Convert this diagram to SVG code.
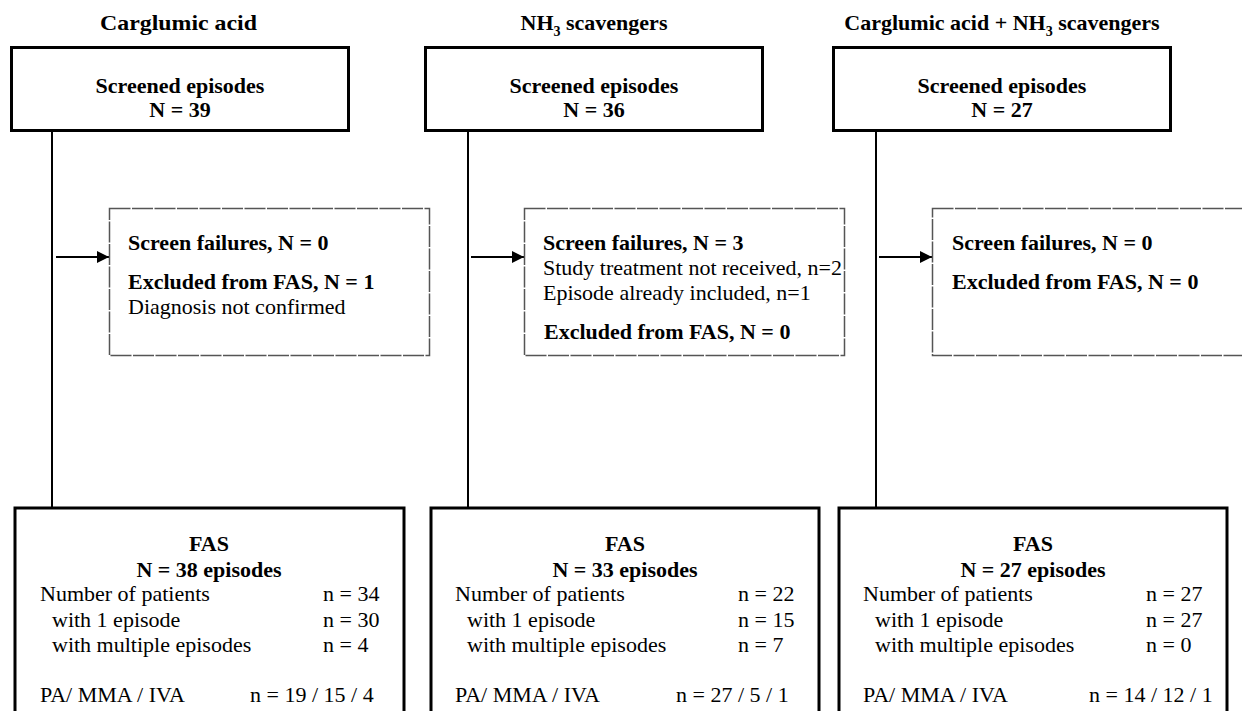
<svg xmlns="http://www.w3.org/2000/svg" width="1242" height="711" viewBox="0 0 1242 711" font-family="'Liberation Serif', 'Times New Roman', Times, serif">
<style>
text{font-family:"Liberation Serif","Times New Roman",Times,serif;fill:#000}
.t{font-size:22px;font-weight:bold}
.b{font-size:22px;font-weight:bold}
.r{font-size:22px}
.m{text-anchor:middle}
.box{fill:#fff;stroke:#000;stroke-width:3}
.dbox{fill:#fff;stroke:#555;stroke-width:1.5;stroke-dasharray:21 1.5}
.ln{stroke:#000;stroke-width:2;fill:none}
</style>
<defs>
<marker id="ah" viewBox="0 0 10 10" refX="10" refY="5" markerWidth="13" markerHeight="12" markerUnits="userSpaceOnUse" orient="auto">
<path d="M0,0 L10,5 L0,10 z" fill="#000"/>
</marker>
</defs>
<g id="connectors">
<line class="ln" x1="52" y1="131" x2="52" y2="508"/>
<line class="ln" x1="468" y1="131" x2="468" y2="508"/>
<line class="ln" x1="876" y1="131" x2="876" y2="508"/>
<line class="ln" x1="56" y1="257" x2="109" y2="257" marker-end="url(#ah)"/>
<line class="ln" x1="471" y1="257" x2="524" y2="257" marker-end="url(#ah)"/>
<line class="ln" x1="879" y1="257" x2="932" y2="257" marker-end="url(#ah)"/>
</g>
<g id="titles">
<text class="t" x="100" y="30" textLength="157" lengthAdjust="spacingAndGlyphs">Carglumic acid</text>
<text class="t m" x="594" y="30">NH<tspan font-size="14" dy="6">3</tspan><tspan dy="-6"> scavengers</tspan></text>
<text class="t m" x="1002" y="30">Carglumic acid + NH<tspan font-size="14" dy="6">3</tspan><tspan dy="-6"> scavengers</tspan></text>
</g>
<g id="screened1">
<rect class="box" x="11.5" y="47.5" width="337" height="83"/>
<text class="b m" x="180" y="93">Screened episodes</text>
<text class="b m" x="180" y="117">N = 39</text>
</g>
<g id="screened2">
<rect class="box" x="425.5" y="47.5" width="337" height="83"/>
<text class="b m" x="594" y="93">Screened episodes</text>
<text class="b m" x="594" y="117">N = 36</text>
</g>
<g id="screened3">
<rect class="box" x="833.5" y="47.5" width="337" height="83"/>
<text class="b m" x="1002" y="93">Screened episodes</text>
<text class="b m" x="1002" y="117">N = 27</text>
</g>
<g id="excl1">
<rect class="dbox" x="109.5" y="208.5" width="320" height="147"/>
<text class="b" x="128" y="250">Screen failures, N = 0</text>
<text class="b" x="128" y="289">Excluded from FAS, N = 1</text>
<text class="r" x="128" y="314">Diagnosis not confirmed</text>
</g>
<g id="excl2">
<rect class="dbox" x="524.5" y="208.5" width="320" height="147"/>
<text class="b" x="543" y="250">Screen failures, N = 3</text>
<text class="r" x="543" y="275">Study treatment not received, n=2</text>
<text class="r" x="543" y="300">Episode already included, n=1</text>
<text class="b" x="544" y="339">Excluded from FAS, N = 0</text>
</g>
<g id="excl3">
<rect class="dbox" x="932.5" y="208.5" width="330" height="147"/>
<text class="b" x="952" y="250">Screen failures, N = 0</text>
<text class="b" x="952" y="289">Excluded from FAS, N = 0</text>
</g>
<g id="fas1">
<rect class="box" x="15" y="508" width="389" height="220"/>
<text class="b m" x="209" y="551">FAS</text>
<text class="b m" x="209" y="577">N = 38 episodes</text>
<text class="r" x="40" y="601">Number of patients</text>
<text class="r" x="52" y="627">with 1 episode</text>
<text class="r" x="52" y="652">with multiple episodes</text>
<text class="r" x="40" y="702">PA/ MMA / IVA</text>
<text class="r" x="323" y="601">n = 34</text>
<text class="r" x="323" y="627">n = 30</text>
<text class="r" x="323" y="652">n = 4</text>
<text class="r" x="250" y="702">n = 19 / 15 / 4</text>
</g>
<g id="fas2">
<rect class="box" x="431" y="508" width="388" height="220"/>
<text class="b m" x="625" y="551">FAS</text>
<text class="b m" x="625" y="577">N = 33 episodes</text>
<text class="r" x="455" y="601">Number of patients</text>
<text class="r" x="467" y="627">with 1 episode</text>
<text class="r" x="467" y="652">with multiple episodes</text>
<text class="r" x="455" y="702">PA/ MMA / IVA</text>
<text class="r" x="738" y="601">n = 22</text>
<text class="r" x="738" y="627">n = 15</text>
<text class="r" x="738" y="652">n = 7</text>
<text class="r" x="676" y="702">n = 27 / 5 / 1</text>
</g>
<g id="fas3">
<rect class="box" x="839" y="508" width="388" height="220"/>
<text class="b m" x="1033" y="551">FAS</text>
<text class="b m" x="1033" y="577">N = 27 episodes</text>
<text class="r" x="863" y="601">Number of patients</text>
<text class="r" x="875" y="627">with 1 episode</text>
<text class="r" x="875" y="652">with multiple episodes</text>
<text class="r" x="863" y="702">PA/ MMA / IVA</text>
<text class="r" x="1146" y="601">n = 27</text>
<text class="r" x="1146" y="627">n = 27</text>
<text class="r" x="1146" y="652">n = 0</text>
<text class="r" x="1089" y="702">n = 14 / 12 / 1</text>
</g>
</svg>
